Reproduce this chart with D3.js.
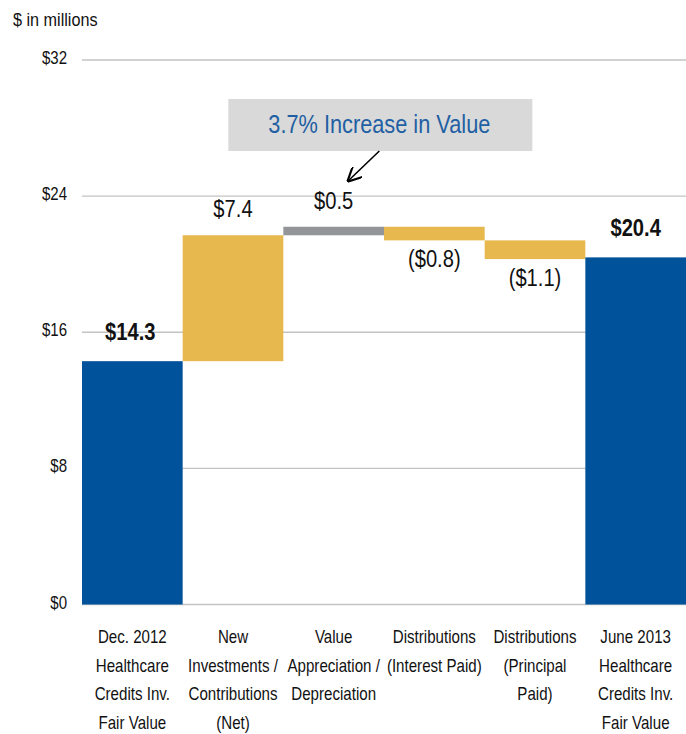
<!DOCTYPE html>
<html>
<head>
<meta charset="utf-8">
<script src="https://cdn.jsdelivr.net/npm/d3@7"></script>
<style>
  body { margin: 0; background: #fff; }
  svg text { font-family: "Liberation Sans", Arial, sans-serif; fill: #111; }
</style>
</head>
<body>
<svg id="chart" width="686" height="734"></svg>
<script>
// Données du graphique en cascade ($ en millions)
var categories = [
    ["Dec. 2012", "Healthcare", "Credits Inv.", "Fair Value"],
    ["New", "Investments /", "Contributions", "(Net)"],
    ["Value", "Appreciation /", "Depreciation"],
    ["Distributions", "(Interest Paid)"],
    ["Distributions", "(Principal", "Paid)"],
    ["June 2013", "Healthcare", "Credits Inv.", "Fair Value"]
];
var kinds = ["total", "delta", "delta", "delta", "delta", "total"];
var values = [14.3, 7.4, 0.5, -0.8, -1.1, 20.4];
var labels = ["$14.3", "$7.4", "$0.5", "($0.8)", "($1.1)", "$20.4"];
var yTicks = [0, 8, 16, 24, 32];

var colors = { total: "#00529b", up: "#e6b84e", down: "#e6b84e", gray: "#939598" };

var svg = d3.select("#chart");

// police étroite simulée : on compresse le texte horizontalement autour de son ancre
function condense(sel, s) {
    sel.attr("transform", function () {
        var cx = +d3.select(this).attr("x") || 0;
        return "translate(" + cx + ",0) scale(" + s + ",1) translate(" + (-cx) + ",0)";
    });
}

var x = d3.scaleBand().domain(d3.range(categories.length)).range([82, 686]).padding(0);
var y = d3.scaleLinear().domain([0, 32]).range([604.5, 60]);

// Calcul des débuts / fins de chaque barre
var running = 0;
var bars = values.map(function (v, i) {
    var d = { i: i, kind: kinds[i], value: v, label: labels[i] };
    if (kinds[i] == "total") {
        d.y0 = 0; d.y1 = v; running = v;
    } else {
        d.y0 = running; d.y1 = running + v; running = d.y1;
    }
    return d;
});

// Lignes de grille
svg.append("g").selectAll("line")
    .data(yTicks)
    .enter().append("line")
    .attr("x1", 82).attr("x2", 686)
    .attr("y1", d => y(d)).attr("y2", d => y(d))
    .style("stroke", "#c3c3c3")
    .style("stroke-width", 1.3);

// Axe Y
var yAxis = svg.append("g")
    .attr("transform", "translate(82,0)")
    .call(d3.axisLeft(y).tickValues(yTicks).tickSize(0).tickPadding(15).tickFormat(d => "$" + d));
yAxis.select(".domain").remove();
yAxis.selectAll("text")
    .attr("dy", "3.5px")
    .style("font-size", "17.5px")
    .style("font-family", "\"Liberation Sans\", Arial, sans-serif")
    .attr("fill", "#111")
    .call(condense, 0.86);

svg.append("text")
    .attr("x", 13).attr("y", 26)
    .style("font-size", "18px")
    .text("$ in millions")
    .call(condense, 0.9);

// Barres
svg.append("g").selectAll("rect")
    .data(bars)
    .enter().append("rect")
    .attr("x", d => x(d.i))
    .attr("width", x.bandwidth())
    .attr("y", d => y(Math.max(d.y0, d.y1)))
    .attr("height", d => Math.abs(y(d.y0) - y(d.y1)))
    .attr("fill", d => d.kind == "total" ? colors.total : (d.i == 2 ? colors.gray : colors.up));

// Étiquettes des valeurs
svg.append("g").selectAll("text")
    .data(bars)
    .enter().append("text")
    .attr("x", d => x(d.i) + x.bandwidth() / 2 + (d.i == 0 ? -2 : 0))
    .attr("y", d => d.value < 0 ? y(Math.min(d.y0, d.y1)) + 27 : y(Math.max(d.y0, d.y1)) - (d.kind == "total" ? 21 : 18))
    .attr("text-anchor", "middle")
    .style("font-size", "24px")
    .style("font-weight", d => d.kind == "total" ? "bold" : "normal")
    .text(d => d.label)
    .call(condense, 0.84);

// Étiquettes des catégories
var cat = svg.append("g").selectAll("text")
    .data(categories)
    .enter().append("text")
    .attr("text-anchor", "middle")
    .attr("x", (d, i) => x(i) + x.bandwidth() / 2)
    .attr("y", 643)
    .style("font-size", "18px");
cat.selectAll("tspan")
    .data(d => d)
    .enter().append("tspan")
    .attr("x", function () { return d3.select(this.parentNode).attr("x"); })
    .attr("dy", (d, i) => i == 0 ? 0 : 28.7)
    .text(d => d);
cat.call(condense, 0.84);

// Annotation
var gray = bars[2];
var bx = x(2) - 55, bw = 304;
svg.append("rect")
    .attr("x", bx).attr("y", 99)
    .attr("width", bw).attr("height", 52)
    .attr("fill", "#d9d9d9");
svg.append("text")
    .attr("x", bx + bw / 2 - 1).attr("y", 133)
    .attr("text-anchor", "middle")
    .style("font-size", "25px")
    .style("fill", "#1f5fa3")
    .text("3.7% Increase in Value")
    .call(condense, 0.87);

svg.append("defs").append("marker")
    .attr("id", "arrow")
    .attr("viewBox", "0 0 10 10")
    .attr("refX", 9).attr("refY", 5)
    .attr("markerWidth", 9).attr("markerHeight", 9)
    .attr("orient", "auto")
    .append("path")
    .attr("d", "M0,0 L10,5 L0,10")
    .attr("fill", "none")
    .attr("stroke", "#000")
    .attr("stroke-width", 1.5);

var tipX = x(2) + 65, tipY = y(gray.y1) - 46;
svg.append("line")
    .attr("x1", tipX + 31).attr("y1", 151)
    .attr("x2", tipX).attr("y2", tipY)
    .attr("stroke", "#000")
    .attr("stroke-width", 1.6)
    .attr("marker-end", "url(#arrow)");
</script>
</body>
</html>
